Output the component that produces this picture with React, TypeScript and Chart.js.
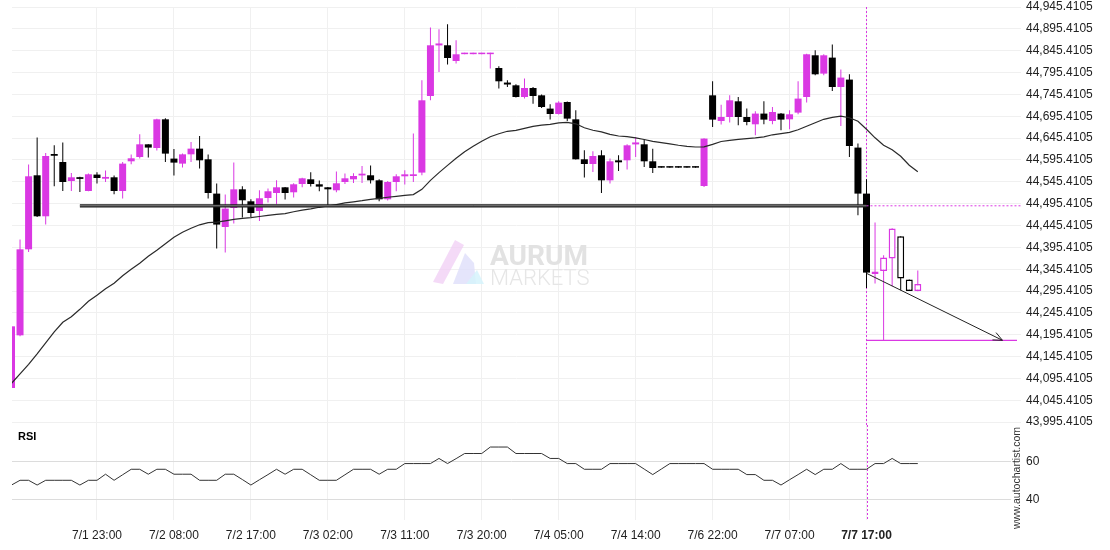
import React, { useEffect, useRef } from "react";
import { Chart, registerables } from "chart.js";

Chart.register(...registerables);

// ---------- data ----------
const opens = [44073.5, 44194.1, 44390.9, 44560.3, 44466.5, 44609.0, 44590.7, 44547.2, 44556.0, 44524.4,
  44561.9, 44552.5, 44555.7, 44524.4, 44592.3, 44602.2, 44631.2, 44622.7, 44688.4, 44598.5,
  44587.0, 44608.3, 44621.3, 44596.9, 44518.4, 44442.0, 44485.5, 44528.2, 44500.8, 44478.6,
  44508.4, 44519.8, 44532.8, 44521.4, 44540.4, 44551.1, 44539.7, 44532.8, 44526.0, 44544.9,
  44551.1, 44560.0, 44560.3, 44548.8, 44505.4, 44544.9, 44558.0, 44558.7, 44566.5, 44741.7,
  44857.5, 44857.8, 44821.8, 44837.5, 44837.5, 44837.5, 44837.5, 44805.8, 44772.5, 44766.2,
  44739.5, 44760.1, 44743.3, 44712.9, 44700.6, 44728.0, 44688.4, 44596.9, 44586.2, 44606.1,
  44548.8, 44594.5, 44594.6, 44631.0, 44631.2, 44592.3, 44580.8, 44580.8, 44580.8, 44580.8,
  44580.8, 44535.8, 44743.3, 44684.5, 44693.7, 44729.6, 44693.7, 44677.0, 44701.5, 44684.5,
  44701.5, 44688.4, 44703.7, 44739.5, 44834.9, 44793.0, 44829.6, 44762.3, 44779.3, 44623.7,
  44518.4, 44334.4, 44341.3, 44369.7, 44420.7, 44321.6, 44295.5];

const highs = [44214.7, 44413.2, 44584.8, 44646.6, 44611.3, 44628.9, 44635.1, 44565.5, 44557.0, 44564.2,
  44567.2, 44571.0, 44559.6, 44590.7, 44607.7, 44654.1, 44631.5, 44689.6, 44690.7, 44620.5,
  44609.9, 44636.5, 44650.2, 44607.7, 44541.3, 44516.1, 44589.3, 44535.1, 44505.4, 44526.0,
  44529.8, 44548.8, 44533.5, 44542.0, 44554.5, 44567.2, 44548.2, 44533.5, 44568.8, 44564.2,
  44564.9, 44581.6, 44582.5, 44551.1, 44547.2, 44562.6, 44571.7, 44655.7, 44777.7, 44898.3,
  44894.4, 44905.8, 44869.2, 44840.5, 44840.5, 44840.5, 44840.5, 44809.7, 44777.7, 44768.5,
  44781.6, 44762.3, 44744.9, 44722.7, 44729.6, 44728.9, 44709.0, 44617.5, 44615.2, 44617.5,
  44598.5, 44606.1, 44631.2, 44647.9, 44642.0, 44621.3, 44580.8, 44580.8, 44580.8, 44580.8,
  44580.8, 44645.0, 44775.4, 44722.0, 44743.3, 44739.5, 44712.9, 44706.7, 44729.6, 44716.6,
  44702.9, 44709.0, 44775.4, 44838.3, 44846.3, 44837.2, 44859.4, 44802.3, 44791.4, 44632.8,
  44551.1, 44452.1, 44377.2, 44439.0, 44420.7, 44321.6, 44342.2];

const lows = [44073.5, 44191.9, 44384.8, 44464.9, 44447.5, 44535.1, 44524.4, 44524.4, 44522.1, 44523.7,
  44541.3, 44544.9, 44516.8, 44507.0, 44585.5, 44598.5, 44600.8, 44616.8, 44590.7, 44559.6,
  44577.9, 44590.7, 44575.6, 44507.0, 44392.5, 44383.4, 44449.8, 44463.5, 44464.9, 44455.7,
  44497.8, 44493.9, 44504.7, 44509.3, 44532.8, 44534.4, 44523.7, 44489.4, 44521.4, 44540.4,
  44542.7, 44542.7, 44541.3, 44500.8, 44502.4, 44523.7, 44539.0, 44544.9, 44560.3, 44731.9,
  44796.7, 44813.6, 44815.9, 44837.5, 44837.5, 44837.5, 44804.4, 44758.7, 44762.3, 44738.1,
  44735.8, 44724.3, 44714.3, 44687.7, 44699.2, 44684.5, 44596.2, 44555.0, 44567.9, 44519.8,
  44541.3, 44570.1, 44573.3, 44602.2, 44579.3, 44565.5, 44577.8, 44577.8, 44577.8, 44577.8,
  44577.8, 44533.5, 44670.8, 44676.3, 44680.9, 44674.7, 44674.7, 44651.8, 44677.0, 44677.0,
  44663.3, 44665.6, 44699.9, 44726.6, 44789.1, 44789.1, 44753.0, 44673.1, 44602.2, 44468.8,
  44302.4, 44312.5, 44182.7, 44306.3, 44297.1, 44295.5, 44294.8];

const closes = [44214.7, 44390.9, 44558.0, 44466.5, 44604.5, 44605.0, 44544.9, 44555.7, 44552.0, 44562.6,
  44554.1, 44556.5, 44524.4, 44587.0, 44599.2, 44631.2, 44623.7, 44688.4, 44609.9, 44589.3,
  44608.3, 44621.3, 44594.6, 44519.8, 44447.5, 44484.1, 44528.2, 44503.1, 44474.0, 44507.7,
  44523.7, 44532.8, 44519.8, 44539.7, 44553.4, 44540.4, 44534.4, 44528.2, 44542.0, 44553.4,
  44558.7, 44564.0, 44548.8, 44505.4, 44544.9, 44558.0, 44562.5, 44562.6, 44731.9, 44857.8,
  44862.0, 44828.7, 44837.2, 44840.5, 44840.5, 44840.5, 44840.5, 44775.4, 44768.0, 44739.5,
  44760.1, 44741.7, 44716.6, 44700.6, 44726.6, 44690.0, 44596.9, 44586.2, 44604.5, 44548.8,
  44592.3, 44590.0, 44628.9, 44635.5, 44592.3, 44577.0, 44577.8, 44577.8, 44577.8, 44577.8,
  44577.8, 44644.3, 44687.7, 44693.7, 44731.9, 44693.7, 44682.2, 44701.5, 44687.7, 44705.1,
  44687.7, 44699.9, 44735.8, 44837.2, 44791.4, 44834.9, 44762.3, 44783.9, 44627.3, 44518.4,
  44337.6, 44340.0, 44372.0, 44438.3, 44323.9, 44295.5, 44311.6];

const maValues = [44084.3, 44106.0, 44127.8, 44151.8, 44177.0, 44202.2, 44224.0, 44236.5, 44253.6, 44272.0,
  44285.7, 44300.6, 44313.2, 44330.3, 44345.2, 44359.0, 44374.9, 44388.7, 44403.6, 44418.4,
  44429.9, 44439.0, 44447.0, 44452.0, 44453.2, 44456.2, 44459.6, 44461.9, 44463.5, 44466.0,
  44468.8, 44471.0, 44472.7, 44476.8, 44480.7, 44483.6, 44487.1, 44490.0, 44493.3, 44497.0,
  44499.6, 44502.2, 44505.4, 44507.7, 44510.0, 44512.2, 44514.5, 44516.1, 44528.2, 44548.8,
  44566.5, 44583.0, 44599.2, 44614.1, 44626.7, 44638.1, 44648.4, 44655.3, 44661.0, 44663.3,
  44667.8, 44672.4, 44675.2, 44677.0, 44680.4, 44681.6, 44678.1, 44669.0, 44663.3, 44659.8,
  44654.1, 44650.2, 44648.8, 44646.1, 44642.2, 44638.1, 44635.1, 44632.4, 44629.0, 44626.7,
  44625.1, 44625.5, 44631.2, 44637.6, 44640.4, 44642.7, 44644.3, 44646.1, 44648.4, 44653.0,
  44655.7, 44658.7, 44664.4, 44672.4, 44680.4, 44688.4, 44693.0, 44695.8, 44691.9, 44683.9,
  44665.6, 44646.1, 44629.0, 44618.6, 44603.8, 44583.2, 44568.3];

const rsiValues = [47.6, 50.1, 50.1, 47.6, 50.1, 50.1, 50.1, 50.1, 47.6, 50.1,
  50.1, 53.3, 50.1, 53.0, 55.9, 55.9, 53.3, 55.9, 55.9, 53.3,
  53.3, 53.3, 50.1, 50.1, 50.1, 53.3, 53.3, 50.5, 47.6, 50.4,
  53.1, 55.9, 53.3, 55.9, 55.9, 53.0, 50.1, 50.1, 50.1, 53.0,
  55.9, 55.9, 55.9, 53.3, 55.9, 55.9, 58.9, 58.9, 58.9, 58.9,
  61.6, 58.9, 61.5, 64.2, 64.2, 64.2, 67.6, 67.6, 67.6, 64.2,
  64.2, 64.2, 64.2, 61.6, 61.6, 58.9, 58.9, 55.9, 55.9, 55.9,
  58.9, 58.9, 58.9, 58.9, 56.0, 53.1, 56.0, 58.9, 58.9, 58.9,
  58.9, 58.9, 55.9, 55.9, 55.9, 55.9, 53.1, 53.1, 50.1, 50.1,
  47.6, 50.4, 53.1, 55.9, 53.1, 55.9, 55.9, 58.9, 55.9, 55.9,
  55.9, 58.9, 58.9, 61.6, 58.9, 58.9, 58.9];

const xTickIndex = [10, 19, 28, 37, 46, 55, 64, 73, 82, 91, 100];
const xTickText = ["7/1 23:00", "7/2 08:00", "7/2 17:00", "7/3 02:00", "7/3 11:00", "7/3 20:00",
  "7/4 05:00", "7/4 14:00", "7/6 22:00", "7/7 07:00", "7/7 17:00"];

const yTickValues = [44945.4105, 44895.4105, 44845.4105, 44795.4105, 44745.4105, 44695.4105,
  44645.4105, 44595.4105, 44545.4105, 44495.4105, 44445.4105, 44395.4105, 44345.4105,
  44295.4105, 44245.4105, 44195.4105, 44145.4105, 44095.4105, 44045.4105, 43995.4105];
const rsiTickValues = [60, 40];

const supportLevel = 44490.5;
const supportStart = 8;
const patternEnd = 100;
const hollowFrom = 101;
const targetLevel = 44182.7;
const targetEnd = 117.6;
const arrowFrom = [100, 44336.0];
const arrowTo = [115.9, 44182.7];

const xMin = 0.06;
const xMax = 118.07;
const xMaxRsi = 116.9;
const mainMin = 43988.9;
const mainMax = 44945.4105;
const rsiMin = 29.2;
const rsiMax = 79.2;

// ---------- style ----------
const MAGENTA = "#da38e3";
const DARK = "#000000";
const FONT = '"Liberation Sans", Arial, Helvetica, sans-serif';
const GRID = "#f0f0f0";

export default function App() {
  const mainRef = useRef<HTMLCanvasElement>(null);
  const rsiRef = useRef<HTMLCanvasElement>(null);

  useEffect(() => {
    document.body.style.margin = "0";
    Chart.defaults.font.family = FONT;
    Chart.defaults.font.size = 12;
    Chart.defaults.color = "#222";

    const idx = opens.map((_, i) => i);
    const colors = idx.map((i) => (closes[i] >= opens[i] ? MAGENTA : DARK));
    const isHollow = idx.map((i) => i >= hollowFrom);

    const vLine = {
      id: "vline",
      beforeDatasetsDraw(chart: any) {
        const { ctx, chartArea, scales } = chart;
        const x = Math.round(scales.x.getPixelForValue(patternEnd)) + 0.5;
        ctx.save();
        ctx.strokeStyle = MAGENTA;
        ctx.lineWidth = 1;
        ctx.setLineDash([2, 2]);
        ctx.beginPath();
        ctx.moveTo(x, chartArea.top);
        ctx.lineTo(x, chartArea.bottom);
        ctx.stroke();
        ctx.restore();
      },
    };

    const watermark = {
      id: "watermark",
      beforeDatasetsDraw(chart: any) {
        const ctx = chart.ctx;
        ctx.save();
        const poly = (pts: number[][], fill: string) => {
          ctx.fillStyle = fill;
          ctx.beginPath();
          ctx.moveTo(pts[0][0], pts[0][1]);
          for (let k = 1; k < pts.length; k++) ctx.lineTo(pts[k][0], pts[k][1]);
          ctx.closePath();
          ctx.fill();
        };
        poly([[433, 282], [443, 284], [464, 245], [455, 240]], "rgba(240, 205, 244, 0.75)");
        poly([[453, 284], [465, 253], [474, 263], [476, 284]], "rgba(222, 222, 250, 0.8)");
        poly([[466, 284], [477, 270], [484, 284]], "rgba(214, 243, 251, 0.85)");
        ctx.fillStyle = "#e2e2e2";
        ctx.textBaseline = "alphabetic";
        ctx.textAlign = "left";
        ctx.font = "bold 28px Roboto, " + FONT;
        ctx.fillText("AURUM", 490, 265);
        ctx.fillStyle = "#e6e6e6";
        ctx.font = "300 22px Roboto, " + FONT;
        ctx.fillText("MARKETS", 490, 285);
        ctx.restore();
      },
    };

    const arrowHead = {
      id: "arrowhead",
      afterDatasetsDraw(chart: any) {
        const { ctx, scales } = chart;
        const sx = scales.x.getPixelForValue(arrowFrom[0]);
        const sy = scales.y.getPixelForValue(arrowFrom[1]);
        const ex = scales.x.getPixelForValue(arrowTo[0]);
        const ey = scales.y.getPixelForValue(arrowTo[1]);
        const a = Math.atan2(ey - sy, ex - sx);
        const len = 10;
        ctx.save();
        ctx.strokeStyle = "#222";
        ctx.lineWidth = 1;
        ctx.beginPath();
        ctx.moveTo(ex - len * Math.cos(a - 0.42), ey - len * Math.sin(a - 0.42));
        ctx.lineTo(ex, ey);
        ctx.lineTo(ex - len * Math.cos(a + 0.42), ey - len * Math.sin(a + 0.42));
        ctx.stroke();
        ctx.restore();
      },
    };

    const xTickCb = (v: any) => {
      const k = xTickIndex.indexOf(Number(v));
      return k >= 0 ? xTickText[k] : "";
    };

    const main = new Chart(mainRef.current as HTMLCanvasElement, {
      type: "bar",
      data: {
        datasets: [
          {
            type: "line",
            data: [{ x: arrowFrom[0], y: arrowFrom[1] }, { x: arrowTo[0], y: arrowTo[1] }],
            borderColor: "#222",
            borderWidth: 1,
            pointRadius: 0,
            order: 0,
          } as any,
          {
            type: "line",
            data: [{ x: patternEnd, y: targetLevel }, { x: targetEnd, y: targetLevel }],
            borderColor: MAGENTA,
            borderWidth: 1.2,
            pointRadius: 0,
            order: 0,
          } as any,
          {
            type: "line",
            data: [{ x: patternEnd, y: supportLevel }, { x: xMax, y: supportLevel }],
            borderColor: MAGENTA,
            borderWidth: 1,
            borderDash: [2, 2],
            pointRadius: 0,
            order: 0,
          } as any,
          {
            type: "line",
            data: [{ x: supportStart, y: supportLevel }, { x: patternEnd, y: supportLevel }],
            borderColor: "#8a8a8a",
            borderWidth: 1,
            pointRadius: 0,
            order: 0,
          } as any,
          {
            type: "line",
            data: [{ x: supportStart, y: supportLevel }, { x: patternEnd, y: supportLevel }],
            borderColor: "#1a1a1a",
            borderWidth: 3.2,
            pointRadius: 0,
            order: 0,
          } as any,
          {
            type: "line",
            data: maValues.map((v, i) => ({ x: i, y: v })),
            borderColor: "#2a2a2a",
            borderWidth: 1.2,
            pointRadius: 0,
            tension: 0,
            clip: 0,
            order: 0,
          } as any,
          {
            type: "bar",
            data: idx.map((i) => ({ x: i, y: [opens[i], closes[i]] })),
            backgroundColor: idx.map((i) => (isHollow[i] ? "#ffffff" : colors[i])),
            borderColor: colors,
            borderWidth: idx.map((i) => (isHollow[i] ? 1.5 : 0)),
            borderSkipped: false,
            barThickness: 7,
            minBarLength: 1.5,
            grouped: false,
            inflateAmount: 0,
            clip: 0,
            order: 1,
          } as any,
          {
            type: "bar",
            data: idx.map((i) => ({ x: i, y: [lows[i], highs[i]] })),
            backgroundColor: colors,
            borderWidth: 0,
            barThickness: 1,
            grouped: false,
            inflateAmount: 0,
            clip: 0,
            order: 2,
          } as any,
        ],
      },
      options: {
        responsive: false,
        animation: false,
        events: [],
        layout: { padding: { left: 12, top: 7, right: 0, bottom: 5 } },
        plugins: { legend: { display: false }, tooltip: { enabled: false } },
        scales: {
          x: {
            type: "linear",
            min: xMin,
            max: xMax,
            offset: false,
            bounds: "data",
            grid: { color: GRID, drawTicks: false, offset: false },
            border: { display: false },
            ticks: { display: false },
            afterBuildTicks: (s: any) => {
              s.ticks = xTickIndex.map((v) => ({ value: v }));
            },
            afterFit: (s: any) => {
              s.height = 0;
              s.paddingLeft = 0;
              s.paddingRight = 0;
            },
          },
          y: {
            type: "linear",
            position: "right",
            min: mainMin,
            max: mainMax,
            bounds: "data",
            beginAtZero: false,
            grid: { color: GRID, drawTicks: false },
            border: { display: false },
            ticks: {
              padding: 5,
              color: "#222",
              autoSkip: false,
              font: { size: 12 },
              callback: (v: any) =>
                Number(v).toLocaleString("en-US", { minimumFractionDigits: 4, maximumFractionDigits: 4 }),
            },
            afterBuildTicks: (s: any) => {
              s.ticks = yTickValues.map((v) => ({ value: v }));
            },
            afterFit: (s: any) => {
              s.width = 89;
              s.paddingTop = 0;
              s.paddingBottom = 0;
            },
          },
        },
      } as any,
      plugins: [watermark, vLine, arrowHead],
    });

    const rsiDeco = {
      id: "rsideco",
      afterDraw(chart: any) {
        const ctx = chart.ctx;
        ctx.save();
        ctx.fillStyle = "#000";
        ctx.font = "bold 11px " + FONT;
        ctx.textAlign = "left";
        ctx.textBaseline = "middle";
        ctx.fillText("RSI", 18, 12);
        ctx.fillStyle = "#333";
        ctx.font = "10.5px " + FONT;
        ctx.translate(1017, 53);
        ctx.rotate(-Math.PI / 2);
        ctx.textAlign = "center";
        ctx.fillText("www.autochartist.com", 0, 0);
        ctx.restore();
      },
    };

    const rsi = new Chart(rsiRef.current as HTMLCanvasElement, {
      type: "line",
      data: {
        datasets: [
          {
            data: rsiValues.map((v, i) => ({ x: i, y: v })),
            borderColor: "#333",
            borderWidth: 1,
            pointRadius: 0,
            tension: 0,
          },
        ],
      },
      options: {
        responsive: false,
        animation: false,
        events: [],
        layout: { padding: { left: 12, top: 0, right: 0, bottom: 0 } },
        plugins: { legend: { display: false }, tooltip: { enabled: false } },
        scales: {
          x: {
            type: "linear",
            min: xMin,
            max: xMaxRsi,
            offset: false,
            bounds: "data",
            grid: { color: GRID, drawTicks: false, offset: false },
            border: { display: false },
            ticks: {
              padding: 8,
              color: "#222",
              maxRotation: 0,
              autoSkip: false,
              font: (c: any) => ({
                family: FONT,
                size: 12,
                weight: c.tick && c.tick.value === patternEnd ? "bold" : "normal",
              }),
              callback: xTickCb,
            },
            afterBuildTicks: (s: any) => {
              s.ticks = xTickIndex.map((v) => ({ value: v }));
            },
            afterFit: (s: any) => {
              s.height = 30;
              s.paddingLeft = 0;
              s.paddingRight = 0;
            },
          },
          y: {
            type: "linear",
            position: "right",
            min: rsiMin,
            max: rsiMax,
            bounds: "data",
            grid: { color: "#dcdcdc", drawTicks: false },
            border: { display: false },
            ticks: { padding: 15, color: "#222", font: { size: 12 }, callback: (v: any) => String(v) },
            afterBuildTicks: (s: any) => {
              s.ticks = rsiTickValues.map((v) => ({ value: v }));
            },
            afterFit: (s: any) => {
              s.width = 99;
              s.paddingTop = 0;
              s.paddingBottom = 0;
            },
          },
        },
      } as any,
      plugins: [vLine, rsiDeco],
    });

    return () => {
      main.destroy();
      rsi.destroy();
    };
  }, []);

  return (
    <div style={{ position: "absolute", left: 0, top: 0, width: 1110, height: 550, background: "#fff" }}>
      <canvas
        ref={mainRef}
        width={1110}
        height={430}
        style={{ position: "absolute", left: 0, top: 0, width: 1110, height: 430 }}
      />
      <canvas
        ref={rsiRef}
        width={1110}
        height={125}
        style={{ position: "absolute", left: 0, top: 425, width: 1110, height: 125 }}
      />
    </div>
  );
}
